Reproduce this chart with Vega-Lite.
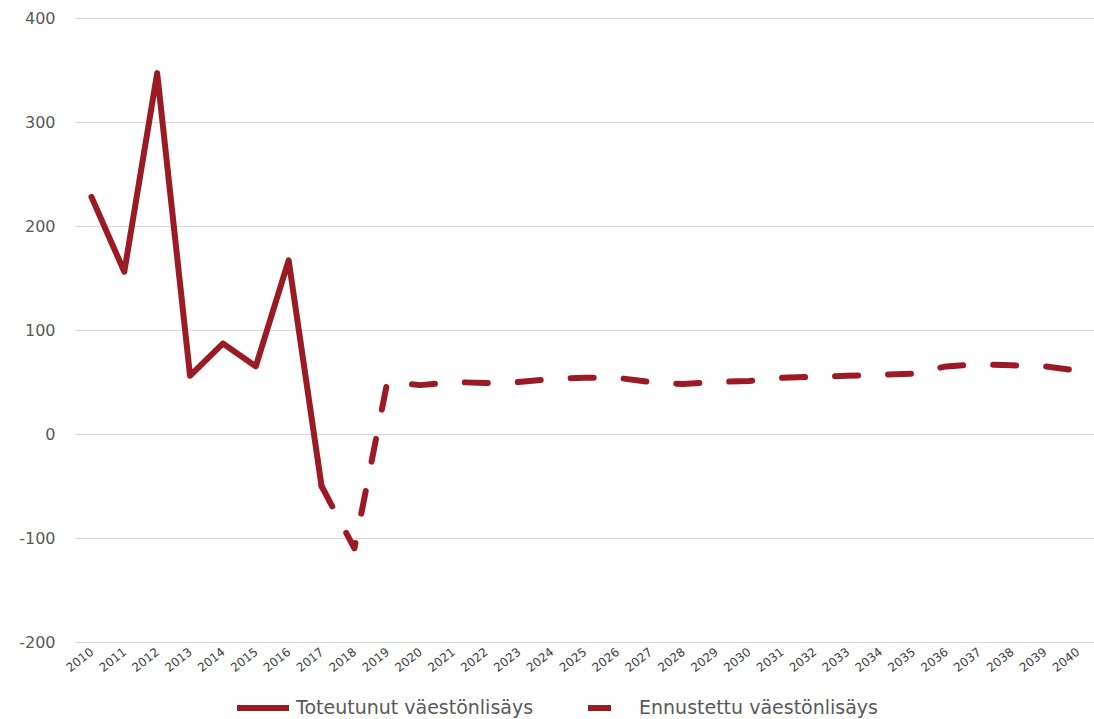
{
  "$schema": "https://vega.github.io/schema/vega-lite/v6.json",
  "width": 1019,
  "height": 624,
  "autosize": {"type": "none"},
  "padding": {"left": 75, "top": 18, "right": 0, "bottom": 77},
  "background": "white",
  "config": {
    "view": {"stroke": null},
    "font": "DejaVu Sans"
  },
  "data": {
    "values": [
      {"year": "2010", "value": 228, "series": "Toteutunut väestönlisäys"},
      {"year": "2011", "value": 156, "series": "Toteutunut väestönlisäys"},
      {"year": "2012", "value": 347, "series": "Toteutunut väestönlisäys"},
      {"year": "2013", "value": 56, "series": "Toteutunut väestönlisäys"},
      {"year": "2014", "value": 87, "series": "Toteutunut väestönlisäys"},
      {"year": "2015", "value": 65, "series": "Toteutunut väestönlisäys"},
      {"year": "2016", "value": 167, "series": "Toteutunut väestönlisäys"},
      {"year": "2017", "value": -50, "series": "Toteutunut väestönlisäys"},
      {"year": "2017", "value": -50, "series": "Ennustettu väestönlisäys"},
      {"year": "2018", "value": -110, "series": "Ennustettu väestönlisäys"},
      {"year": "2019", "value": 50, "series": "Ennustettu väestönlisäys"},
      {"year": "2020", "value": 47, "series": "Ennustettu väestönlisäys"},
      {"year": "2021", "value": 50, "series": "Ennustettu väestönlisäys"},
      {"year": "2022", "value": 49, "series": "Ennustettu väestönlisäys"},
      {"year": "2023", "value": 50, "series": "Ennustettu väestönlisäys"},
      {"year": "2024", "value": 53, "series": "Ennustettu väestönlisäys"},
      {"year": "2025", "value": 54, "series": "Ennustettu väestönlisäys"},
      {"year": "2026", "value": 54, "series": "Ennustettu väestönlisäys"},
      {"year": "2027", "value": 50, "series": "Ennustettu väestönlisäys"},
      {"year": "2028", "value": 48, "series": "Ennustettu väestönlisäys"},
      {"year": "2029", "value": 50, "series": "Ennustettu väestönlisäys"},
      {"year": "2030", "value": 51, "series": "Ennustettu väestönlisäys"},
      {"year": "2031", "value": 54, "series": "Ennustettu väestönlisäys"},
      {"year": "2032", "value": 55, "series": "Ennustettu väestönlisäys"},
      {"year": "2033", "value": 56, "series": "Ennustettu väestönlisäys"},
      {"year": "2034", "value": 57, "series": "Ennustettu väestönlisäys"},
      {"year": "2035", "value": 58, "series": "Ennustettu väestönlisäys"},
      {"year": "2036", "value": 65, "series": "Ennustettu väestönlisäys"},
      {"year": "2037", "value": 67, "series": "Ennustettu väestönlisäys"},
      {"year": "2038", "value": 66, "series": "Ennustettu väestönlisäys"},
      {"year": "2039", "value": 65, "series": "Ennustettu väestönlisäys"},
      {"year": "2040", "value": 61, "series": "Ennustettu väestönlisäys"}
    ]
  },
  "mark": {"type": "line", "color": "#9b1b25", "strokeWidth": 6, "strokeCap": "round", "strokeJoin": "round"},
  "encoding": {
    "x": {
      "field": "year",
      "type": "ordinal",
      "scale": {"type": "point", "padding": 0.5},
      "axis": {
        "title": null,
        "labelAngle": -38,
        "labelAlign": "right",
        "labelBaseline": "middle",
        "labelFontSize": 12,
        "labelColor": "#404040",
        "labelPadding": 8,
        "ticks": false,
        "domain": false,
        "grid": false
      }
    },
    "y": {
      "field": "value",
      "type": "quantitative",
      "scale": {"domain": [-200, 400], "nice": false},
      "axis": {
        "title": null,
        "values": [-200, -100, 0, 100, 200, 300, 400],
        "labelExpr": "toString(datum.value)",
        "labelFontSize": 16,
        "labelColor": "#595959",
        "labelPadding": 20,
        "ticks": false,
        "domain": false,
        "gridColor": "#d9d9d9",
        "gridWidth": 1
      }
    },
    "strokeDash": {
      "field": "series",
      "type": "nominal",
      "scale": {
        "domain": ["Toteutunut väestönlisäys", "Ennustettu väestönlisäys"],
        "range": [[1, 0], [23, 30]]
      },
      "legend": {
        "title": null,
        "orient": "none",
        "legendX": 159,
        "legendY": 661,
        "direction": "horizontal",
        "symbolType": "stroke",
        "symbolSize": 2704,
        "symbolStrokeWidth": 6,
        "symbolStrokeColor": "#9b1b25",
        "symbolDashOffset": 45,
        "labelFontSize": 19,
        "labelColor": "#595959",
        "labelOffset": 4,
        "labelLimit": 400,
        "columnPadding": 34
      }
    }
  }
}
